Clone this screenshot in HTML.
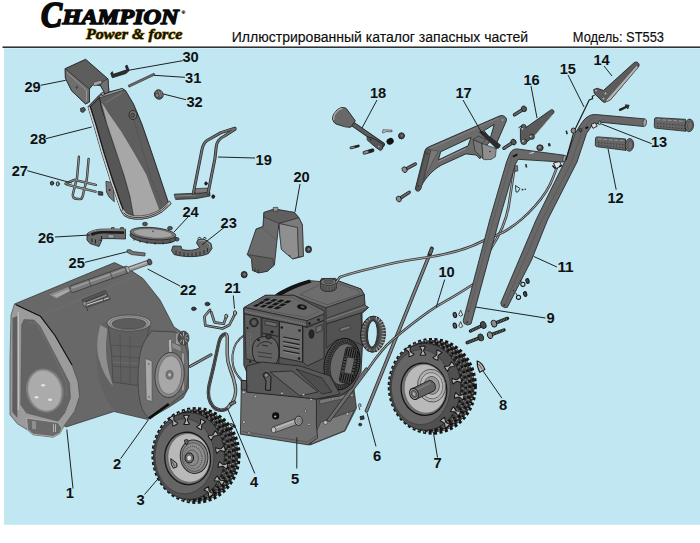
<!DOCTYPE html>
<html lang="ru"><head><meta charset="utf-8"><title>Champion ST553</title>
<style>
html,body{margin:0;padding:0;background:#fff;}
body{width:700px;height:543px;overflow:hidden;position:relative;font-family:"Liberation Sans",sans-serif;}
svg{position:absolute;left:0;top:0;display:block}
.n{font-family:"Liberation Sans",sans-serif;font-weight:bold;font-size:15px;fill:#111;}
.l{stroke:#222;stroke-width:1;fill:none}
</style></head><body>
<svg width="700" height="543" viewBox="0 0 700 543">
<!-- 00_bg.svg -->
<rect x="0" y="0" width="700" height="543" fill="#ffffff"/>
<rect x="4" y="48.3" width="696" height="476.5" fill="#c0e7f2"/>
<rect x="2.5" y="46.5" width="697.5" height="1.35" fill="#111"/>
<g font-family="'Liberation Serif',serif" font-weight="bold" font-style="italic" fill="#0a0a0a" stroke="#0a0a0a" stroke-linejoin="round">
<text x="41" y="27" font-size="35" textLength="21" lengthAdjust="spacingAndGlyphs" stroke-width="1.9">C</text>
<text x="62.5" y="24.3" font-size="20.3" textLength="116" lengthAdjust="spacingAndGlyphs" stroke-width="1.5">HAMPION</text>
<text x="181.5" y="14" font-size="5" font-style="normal" stroke-width="0.2">®</text>
<text x="86" y="39.4" font-size="15.5" textLength="96.5" lengthAdjust="spacingAndGlyphs" fill="none" stroke="#d9b400" stroke-width="1.5" opacity="0.55">Power &amp; force</text>
<text x="86" y="39.4" font-size="15.5" textLength="96.5" lengthAdjust="spacingAndGlyphs" fill="#151000" stroke="#151000" stroke-width="0.45">Power &amp; force</text>
</g>
<g font-family="'Liberation Sans',sans-serif" font-size="14" fill="#0c0c0c" stroke="#0c0c0c" stroke-width="0.15">
<text x="231.8" y="41.8" textLength="296.4" lengthAdjust="spacingAndGlyphs">Иллюстрированный каталог запасных частей</text>
<text x="572.8" y="41.8" textLength="91.2" lengthAdjust="spacingAndGlyphs">Модель: ST553</text>
</g>

<!-- 20_housing.svg -->
<g id="housing" stroke-linejoin="round">
<!-- main body -->
<path d="M14.5 304 L114.5 262.6 L131 270.5 L143 278.5 L160 300 L174 327 L180 331 L187 340 L188.5 352 L188.5 388 L183 398 L170 406.5 L148 419.5 L114 411.5 L66 427 L58 422 L20 400 L16 320 Z" fill="#686868" stroke="#3a3a3a" stroke-width="0.8"/>
<!-- fold line -->
<path d="M41 315.5 L136 276" stroke="#8a8a8a" stroke-width="0.6" stroke-dasharray="1 1" fill="none" opacity="0.7"/>
<!-- left side panel rim -->
<path d="M14.5 304 L40.5 316.3 L54.7 335 L72 365 L78 381.5 L79.6 396.4 L74.6 411.4 L63.8 426.3 L60 433.5 L53 437.2 L33.2 434.8 L27 429.5 L17.4 423.8 L10 414.7 L10 360 L11 315 Z" fill="#9b9b9b" stroke="#4a4a4a" stroke-width="0.7"/>
<path d="M12.5 318 L12.3 412 L17.4 418 L17.4 316 Z" fill="#5e5e5e"/>
<path d="M18.3 312 L18.3 410" stroke="#c4c4c4" stroke-width="1.2" fill="none"/>
<!-- inset -->
<path d="M24 319.5 L34 320 L40 326 L60.4 365 L69.6 383 L70.5 398 L64.7 413 L58 421.3 L26.5 413 L20.7 404.7 L21.5 325 Z" fill="#646464" stroke="#555" stroke-width="0.5"/>
<path d="M28 322 L37 323.5 L57 362 L66 382 L66.5 396" stroke="#8c8c8c" stroke-width="0.6" stroke-dasharray="0.8 0.8" fill="none"/>
<!-- fold edge -->
<path d="M16 304.7 L40.5 316.3 L55 335.5 L72 365" stroke="#111" stroke-width="1.1" fill="none"/>
<!-- bearing plate -->
<ellipse cx="44.8" cy="390.6" rx="18.6" ry="22.3" transform="rotate(-14 44.8 390.6)" fill="#7e7e7e"/>
<ellipse cx="44.8" cy="390.6" rx="16.6" ry="20.6" transform="rotate(-14 44.8 390.6)" fill="#ababab" stroke="#8e8e8e" stroke-width="0.6"/>
<ellipse cx="43.1" cy="385.3" rx="2.1" ry="1.3" fill="#e2e2e2"/>
<ellipse cx="36.5" cy="397.3" rx="2.1" ry="1.3" fill="#e2e2e2"/>
<ellipse cx="50.1" cy="399.8" rx="2.1" ry="1.3" fill="#e2e2e2"/>
<!-- skid shoe -->
<path d="M26.5 418 L58 422.5 L62 428 L60.3 433 L53 436.5 L33.5 434.3 L27.6 429.5 Z" fill="#6a6a6a" stroke="#b0b0b0" stroke-width="0.9"/>
<path d="M33 421 L33 429 M35 421.3 L35 429.3 M53.5 424 L53.5 432 M55.5 424.3 L55.5 432" stroke="#c8c8c8" stroke-width="0.8"/>
<!-- top details: slots -->
<path d="M48.6 294.6 L67.4 286.9 L74.3 288.6 L56.3 298.9 Z" fill="#8e8e8e" stroke="#555" stroke-width="0.4"/>
<path d="M53 295.3 L68 289.3 L71.5 290.2 L57 297.3 Z" fill="#a8a8a8"/>
<path d="M82 299.7 L105.1 290.3 L110.3 299.3 L86.3 307.6 Z" fill="#5a5a5a" stroke="#2a2a2a" stroke-width="0.5"/>
<path d="M84 301.5 L106 292.8 L107.5 296 L86 304.6 Z" fill="#8a8a8a" stroke="#222" stroke-width="0.5"/>
<path d="M86 305.3 L109 297.8" stroke="#d0d0d0" stroke-width="1"/>
<path d="M84.5 302.3 L105 294.2" stroke="#1c1c1c" stroke-width="0.8"/>
<ellipse cx="84.6" cy="303.6" rx="1.8" ry="2.6" fill="#8c8c8c" stroke="#222" stroke-width="0.5"/>
<path d="M87 308 l0.6 3 M103 298 l0.8 3" stroke="#333" stroke-width="0.7"/>
</g>

<!-- 21_drum.svg -->
<g id="drum" stroke-linejoin="round">
<!-- drum body outline shading -->
<path d="M103 322 C97 335 95 352 98 372 C100 388 105 400 114 410 L148 419 L170 406 L186 392 L188.5 357 L182 338 L174 330 L152 331 L150 322 Z" fill="#626262"/>
<!-- lens highlight -->
<path d="M100.5 325 C96.5 338 96 352 100 362 C103 372 108 381 113 386 C109 374 106 362 106 350 C106 340 107 333 107.5 329 Z" fill="#8e8e8e"/>
<!-- neck -->
<path d="M108 325 L111.5 352 L113 382 L141 386 L144 350 L149.5 326 Z" fill="#5f5f5f" stroke="#3c3c3c" stroke-width="0.6"/>
<path d="M111 345 L143 347 M112 356 L142 358 M112.5 366 L141 368 M120 335 L121 384 M130 336 L130 385" stroke="#444" stroke-width="0.5" fill="none"/>
<path d="M113 362 L141 364" stroke="#8a8a8a" stroke-width="0.5" stroke-dasharray="1 1"/>
<!-- chute ring -->
<ellipse cx="129" cy="323" rx="22" ry="8" fill="#9a9a9a" stroke="#3e3e3e" stroke-width="0.7"/>
<ellipse cx="129" cy="323.3" rx="19.5" ry="6.6" fill="none" stroke="#5a5a5a" stroke-width="0.6"/>
<ellipse cx="129" cy="323.8" rx="17" ry="5.4" fill="#5c5c5c" stroke="#3a3a3a" stroke-width="0.6"/>
<!-- front face of drum -->
<path d="M152 331 C145 338 140 348 139 362 C137 380 138 398 142.5 410 L148 418 L170.5 404 L185.5 392 C188.5 380 189 368 188 357 C187 347 183 338 175 332 Z" fill="#6d6d6d" stroke="#3a3a3a" stroke-width="0.7"/>
<!-- left bracket -->
<path d="M145.2 358.5 L152 361 L152 401.5 L146.3 400 Z" fill="#a9a9a9" stroke="#444" stroke-width="0.5"/>
<circle cx="148.8" cy="364" r="0.8" fill="#555"/><circle cx="149" cy="397" r="0.8" fill="#555"/>
<!-- right bracket -->
<path d="M181.5 352 L184.5 354 L184.5 390 L181.5 392 Z" fill="#999" stroke="#444" stroke-width="0.4"/>
<!-- top bracket -->
<path d="M168.5 340 L171.5 339 L172 352 L169 353 Z" fill="#b4b4b4" stroke="#444" stroke-width="0.4"/>
<path d="M171.5 342 L181 346.5 L181.5 352 L172 348 Z" fill="#8c8c8c" stroke="#444" stroke-width="0.4"/>
<!-- face plate -->
<ellipse cx="169.6" cy="375" rx="14.6" ry="22.6" transform="rotate(5 169.6 375)" fill="#868686" stroke="#333" stroke-width="0.8"/>
<ellipse cx="169.8" cy="375" rx="11.8" ry="19.4" transform="rotate(5 169.8 375)" fill="#a8a8a8" stroke="#555" stroke-width="0.6"/>
<ellipse cx="169.6" cy="374.8" rx="3.6" ry="4.4" fill="#777" stroke="#444" stroke-width="0.5"/>
<ellipse cx="169.6" cy="374.8" rx="1.6" ry="2" fill="#c4c4c4" stroke="#555" stroke-width="0.4"/>
<!-- gear knob -->
<path d="M175.5 334 L181 331.5 L181 345 L175.5 344 Z" fill="#9a9a9a" stroke="#444" stroke-width="0.4"/>
<ellipse cx="183.5" cy="338" rx="5.6" ry="7" fill="#4a4a4a" stroke="#2a2a2a" stroke-width="0.6"/>
<g stroke="#d0d0d0" stroke-width="0.7">
<path d="M183.5 338 L183.5 332 M183.5 338 L187.5 334 M183.5 338 L188.5 338 M183.5 338 L187.5 342.5 M183.5 338 L183.5 344.5 M183.5 338 L180 342.5 M183.5 338 L180 334"/>
</g>
<ellipse cx="183.5" cy="338" rx="1.8" ry="2.2" fill="#555"/>
<!-- part 2 black strip -->
<path d="M148 417.5 L168 403 L169.5 405 L150 419.5 Z" fill="#0c0c0c"/>
<!-- shaft 22 -->
<path d="M70 286 L126.5 266 L129 272.5 L73 292.5 C70.5 292.5 69 288.5 70 286 Z" fill="#7a7a7a" stroke="#2e2e2e" stroke-width="0.7"/>
<path d="M72 288 L127 268.6" stroke="#9c9c9c" stroke-width="1.6"/>
<path d="M88.5 279.6 L91 286 M110 272 L112.5 278.3 M124.5 266.8 L127 273" stroke="#3a3a3a" stroke-width="0.7"/>
<path d="M127 267.5 L148.5 260 L150 264.2 L128.6 271.8 Z" fill="#999" stroke="#333" stroke-width="0.7"/>
<path d="M128 269 L148.8 261.6" stroke="#c4c4c4" stroke-width="1.1"/>
<ellipse cx="149.6" cy="262" rx="2.2" ry="3" transform="rotate(-20 149.6 262)" fill="#555" stroke="#222" stroke-width="0.7"/>
<ellipse cx="127.8" cy="269.6" rx="1.6" ry="3.6" transform="rotate(-20 127.8 269.6)" fill="#aaa" stroke="#333" stroke-width="0.5"/>
</g>

<!-- 30_wheels.py -->
<g id="wheel3"><ellipse cx="196" cy="455.5" rx="42.4" ry="46.199999999999996" fill="#3a3a3a" stroke="#141414" stroke-width="4.4" stroke-dasharray="3 2.4"/>
<ellipse cx="196" cy="455.5" rx="40.2" ry="44.0" fill="#444" stroke="#222" stroke-width="1"/>
<path d="M188.9 410.9 A41.0 45.3 0 1 1 185.4 499.3" fill="none" stroke="#a0a0a0" stroke-width="1.4" stroke-dasharray="1.2 4.2" stroke-dashoffset="0"/>
<path d="M189.5 412.9 A37.5 43.3 0 1 1 186.3 497.3" fill="none" stroke="#111" stroke-width="3.0" stroke-dasharray="2.4 3" stroke-dashoffset="1"/>
<path d="M189.5 412.9 A37.5 43.3 0 1 1 186.3 497.3" fill="none" stroke="#9a9a9a" stroke-width="1.2" stroke-dasharray="1 4.4" stroke-dashoffset="3.2"/>
<path d="M190.2 415.3 A33.5 40.8 0 1 1 187.3 494.9" fill="none" stroke="#141414" stroke-width="3.0" stroke-dasharray="2.6 2.8" stroke-dashoffset="0"/>
<path d="M190.2 415.3 A33.5 40.8 0 1 1 187.3 494.9" fill="none" stroke="#8c8c8c" stroke-width="1.2" stroke-dasharray="1 4.4" stroke-dashoffset="2.8"/>
<path d="M190.8 417.3 A30.0 38.8 0 1 1 188.2 493.0" fill="none" stroke="#1a1a1a" stroke-width="2.4" stroke-dasharray="2.2 3.2" stroke-dashoffset="2"/>
<path d="M190.8 417.3 A30.0 38.8 0 1 1 188.2 493.0" fill="none" stroke="#8a8a8a" stroke-width="1.1" stroke-dasharray="0.9 4.5" stroke-dashoffset="4"/>
<path d="M189.8 414.0 A35.5 42.1 0 1 1 186.8 496.2" fill="none" stroke="#b0b0b0" stroke-width="0.9" stroke-dasharray="0.9 6.1" stroke-dashoffset="1.5"/>
<path d="M190.5 416.3 A31.7 39.8 0 1 1 187.8 493.9" fill="none" stroke="#a8a8a8" stroke-width="0.9" stroke-dasharray="0.9 6.6" stroke-dashoffset="3.5"/>
<path d="M188.6 501.0 A42.4 46.2 0 0 1 190.1 409.7" fill="none" stroke="#9a9a9a" stroke-width="1.3" stroke-dasharray="1.1 4.3"/>
<ellipse cx="189" cy="456.0" rx="35.5" ry="43.5" fill="#505050" stroke="#222" stroke-width="0.8"/>
<ellipse cx="184.5" cy="456.3" rx="29.5" ry="37.5" fill="#656565" stroke="#333" stroke-width="0.6"/>
<g transform="translate(173.3 420.9) rotate(-117)"><path d="M-4.2 -2.8 L-0.6 -0.9 L0.6 -0.9 L4.2 -2.8 L4.6 -1 L4.6 1 L4.2 2.8 L0.6 0.9 L-0.6 0.9 L-4.2 2.8 L-4.6 1 L-4.6 -1 Z" fill="#b4b4b4" stroke="#141414" stroke-width="1"/></g>
<g transform="translate(186.5 419.9) rotate(-93)"><path d="M-4.2 -2.8 L-0.6 -0.9 L0.6 -0.9 L4.2 -2.8 L4.6 -1 L4.6 1 L4.2 2.8 L0.6 0.9 L-0.6 0.9 L-4.2 2.8 L-4.6 1 L-4.6 -1 Z" fill="#b4b4b4" stroke="#141414" stroke-width="1"/></g>
<g transform="translate(201.1 424.4) rotate(-63)"><path d="M-4.2 -2.8 L-0.6 -0.9 L0.6 -0.9 L4.2 -2.8 L4.6 -1 L4.6 1 L4.2 2.8 L0.6 0.9 L-0.6 0.9 L-4.2 2.8 L-4.6 1 L-4.6 -1 Z" fill="#b4b4b4" stroke="#141414" stroke-width="1"/></g>
<g transform="translate(213.2 435.6) rotate(-34)"><path d="M-4.2 -2.8 L-0.6 -0.9 L0.6 -0.9 L4.2 -2.8 L4.6 -1 L4.6 1 L4.2 2.8 L0.6 0.9 L-0.6 0.9 L-4.2 2.8 L-4.6 1 L-4.6 -1 Z" fill="#b4b4b4" stroke="#141414" stroke-width="1"/></g>
<g transform="translate(220.4 449.7) rotate(-10)"><path d="M-4.2 -2.8 L-0.6 -0.9 L0.6 -0.9 L4.2 -2.8 L4.6 -1 L4.6 1 L4.2 2.8 L0.6 0.9 L-0.6 0.9 L-4.2 2.8 L-4.6 1 L-4.6 -1 Z" fill="#b4b4b4" stroke="#141414" stroke-width="1"/></g>
<g transform="translate(222.9 465.4) rotate(12)"><path d="M-4.2 -2.8 L-0.6 -0.9 L0.6 -0.9 L4.2 -2.8 L4.6 -1 L4.6 1 L4.2 2.8 L0.6 0.9 L-0.6 0.9 L-4.2 2.8 L-4.6 1 L-4.6 -1 Z" fill="#b4b4b4" stroke="#141414" stroke-width="1"/></g>
<g transform="translate(219.4 480.6) rotate(32)"><path d="M-4.2 -2.8 L-0.6 -0.9 L0.6 -0.9 L4.2 -2.8 L4.6 -1 L4.6 1 L4.2 2.8 L0.6 0.9 L-0.6 0.9 L-4.2 2.8 L-4.6 1 L-4.6 -1 Z" fill="#b4b4b4" stroke="#141414" stroke-width="1"/></g>
<g transform="translate(208.7 491.8) rotate(54)"><path d="M-4.2 -2.8 L-0.6 -0.9 L0.6 -0.9 L4.2 -2.8 L4.6 -1 L4.6 1 L4.2 2.8 L0.6 0.9 L-0.6 0.9 L-4.2 2.8 L-4.6 1 L-4.6 -1 Z" fill="#b4b4b4" stroke="#141414" stroke-width="1"/></g>
<ellipse cx="187.6" cy="458.4" rx="22.8" ry="26.2" transform="rotate(-8 187.6 458.4)" fill="#6f6f6f" stroke="#161616" stroke-width="1.3"/>
<ellipse cx="188.79999999999998" cy="457.9" rx="20.8" ry="24.4" transform="rotate(-8 188.79999999999998 457.9)" fill="#b9b9b9" stroke="#555" stroke-width="0.5"/>
<ellipse cx="194.1" cy="456.7" rx="13.8" ry="16.8" transform="rotate(-8 194.1 456.7)" fill="#878787" stroke="#2a2a2a" stroke-width="1"/>
<ellipse cx="193.7" cy="457.0" rx="11.6" ry="14.4" transform="rotate(-8 194.1 456.7)" fill="#8e8e8e" stroke="#3e3e3e" stroke-width="0.7"/>
<ellipse cx="192.9" cy="457.3" rx="9" ry="11.2" transform="rotate(-8 194.1 456.7)" fill="none" stroke="#5a5a5a" stroke-width="1.4" stroke-dasharray="1 1"/>
<ellipse cx="191.9" cy="457.59999999999997" rx="6.4" ry="8" transform="rotate(-8 194.1 456.7)" fill="#8a8a8a" stroke="#4a4a4a" stroke-width="0.7"/>
<ellipse cx="189.29999999999998" cy="457.9" rx="4.3" ry="5" fill="#6a6a6a" stroke="#1c1c1c" stroke-width="1"/>
<ellipse cx="189.2" cy="458.0" rx="2.4" ry="2.8" fill="#d4d4d4" stroke="#444" stroke-width="0.5"/>
<path d="M184.5 440.09999999999997 l3 -0.6 l0.6 2.6 l-1.6 3 l-1.6 -2.4 z" fill="#6a6a6a" stroke="#161616" stroke-width="0.8"/>
<path d="M170.8 458.7 L176.60000000000002 463.09999999999997 L177.0 466.7 L173.4 468.3 L171.4 464.7 Z" fill="#9c9c9c" stroke="#161616" stroke-width="1"/>
<path d="M172.4 461.7 L174.60000000000002 466.3" stroke="#333" stroke-width="0.8"/></g>
<g id="wheel7"><ellipse cx="432.3" cy="386.3" rx="42.4" ry="46.199999999999996" fill="#3a3a3a" stroke="#141414" stroke-width="4.4" stroke-dasharray="3 2.4"/>
<ellipse cx="432.3" cy="386.3" rx="40.2" ry="44.0" fill="#444" stroke="#222" stroke-width="1"/>
<path d="M425.2 341.7 A41.0 45.3 0 1 1 421.7 430.1" fill="none" stroke="#a0a0a0" stroke-width="1.4" stroke-dasharray="1.2 4.2" stroke-dashoffset="0"/>
<path d="M425.8 343.7 A37.5 43.3 0 1 1 422.6 428.1" fill="none" stroke="#111" stroke-width="3.0" stroke-dasharray="2.4 3" stroke-dashoffset="1"/>
<path d="M425.8 343.7 A37.5 43.3 0 1 1 422.6 428.1" fill="none" stroke="#9a9a9a" stroke-width="1.2" stroke-dasharray="1 4.4" stroke-dashoffset="3.2"/>
<path d="M426.5 346.1 A33.5 40.8 0 1 1 423.6 425.7" fill="none" stroke="#141414" stroke-width="3.0" stroke-dasharray="2.6 2.8" stroke-dashoffset="0"/>
<path d="M426.5 346.1 A33.5 40.8 0 1 1 423.6 425.7" fill="none" stroke="#8c8c8c" stroke-width="1.2" stroke-dasharray="1 4.4" stroke-dashoffset="2.8"/>
<path d="M427.1 348.1 A30.0 38.8 0 1 1 424.5 423.8" fill="none" stroke="#1a1a1a" stroke-width="2.4" stroke-dasharray="2.2 3.2" stroke-dashoffset="2"/>
<path d="M427.1 348.1 A30.0 38.8 0 1 1 424.5 423.8" fill="none" stroke="#8a8a8a" stroke-width="1.1" stroke-dasharray="0.9 4.5" stroke-dashoffset="4"/>
<path d="M426.1 344.8 A35.5 42.1 0 1 1 423.1 427.0" fill="none" stroke="#b0b0b0" stroke-width="0.9" stroke-dasharray="0.9 6.1" stroke-dashoffset="1.5"/>
<path d="M426.8 347.1 A31.7 39.8 0 1 1 424.1 424.7" fill="none" stroke="#a8a8a8" stroke-width="0.9" stroke-dasharray="0.9 6.6" stroke-dashoffset="3.5"/>
<path d="M424.9 431.8 A42.4 46.2 0 0 1 426.4 340.5" fill="none" stroke="#9a9a9a" stroke-width="1.3" stroke-dasharray="1.1 4.3"/>
<ellipse cx="425.3" cy="386.8" rx="35.5" ry="43.5" fill="#505050" stroke="#222" stroke-width="0.8"/>
<ellipse cx="420.8" cy="387.1" rx="29.5" ry="37.5" fill="#656565" stroke="#333" stroke-width="0.6"/>
<g transform="translate(409.6 351.7) rotate(-117)"><path d="M-4.2 -2.8 L-0.6 -0.9 L0.6 -0.9 L4.2 -2.8 L4.6 -1 L4.6 1 L4.2 2.8 L0.6 0.9 L-0.6 0.9 L-4.2 2.8 L-4.6 1 L-4.6 -1 Z" fill="#b4b4b4" stroke="#141414" stroke-width="1"/></g>
<g transform="translate(422.8 350.7) rotate(-93)"><path d="M-4.2 -2.8 L-0.6 -0.9 L0.6 -0.9 L4.2 -2.8 L4.6 -1 L4.6 1 L4.2 2.8 L0.6 0.9 L-0.6 0.9 L-4.2 2.8 L-4.6 1 L-4.6 -1 Z" fill="#b4b4b4" stroke="#141414" stroke-width="1"/></g>
<g transform="translate(437.4 355.2) rotate(-63)"><path d="M-4.2 -2.8 L-0.6 -0.9 L0.6 -0.9 L4.2 -2.8 L4.6 -1 L4.6 1 L4.2 2.8 L0.6 0.9 L-0.6 0.9 L-4.2 2.8 L-4.6 1 L-4.6 -1 Z" fill="#b4b4b4" stroke="#141414" stroke-width="1"/></g>
<g transform="translate(449.5 366.4) rotate(-34)"><path d="M-4.2 -2.8 L-0.6 -0.9 L0.6 -0.9 L4.2 -2.8 L4.6 -1 L4.6 1 L4.2 2.8 L0.6 0.9 L-0.6 0.9 L-4.2 2.8 L-4.6 1 L-4.6 -1 Z" fill="#b4b4b4" stroke="#141414" stroke-width="1"/></g>
<g transform="translate(456.7 380.5) rotate(-10)"><path d="M-4.2 -2.8 L-0.6 -0.9 L0.6 -0.9 L4.2 -2.8 L4.6 -1 L4.6 1 L4.2 2.8 L0.6 0.9 L-0.6 0.9 L-4.2 2.8 L-4.6 1 L-4.6 -1 Z" fill="#b4b4b4" stroke="#141414" stroke-width="1"/></g>
<g transform="translate(459.2 396.2) rotate(12)"><path d="M-4.2 -2.8 L-0.6 -0.9 L0.6 -0.9 L4.2 -2.8 L4.6 -1 L4.6 1 L4.2 2.8 L0.6 0.9 L-0.6 0.9 L-4.2 2.8 L-4.6 1 L-4.6 -1 Z" fill="#b4b4b4" stroke="#141414" stroke-width="1"/></g>
<g transform="translate(455.7 411.4) rotate(32)"><path d="M-4.2 -2.8 L-0.6 -0.9 L0.6 -0.9 L4.2 -2.8 L4.6 -1 L4.6 1 L4.2 2.8 L0.6 0.9 L-0.6 0.9 L-4.2 2.8 L-4.6 1 L-4.6 -1 Z" fill="#b4b4b4" stroke="#141414" stroke-width="1"/></g>
<g transform="translate(445.0 422.6) rotate(54)"><path d="M-4.2 -2.8 L-0.6 -0.9 L0.6 -0.9 L4.2 -2.8 L4.6 -1 L4.6 1 L4.2 2.8 L0.6 0.9 L-0.6 0.9 L-4.2 2.8 L-4.6 1 L-4.6 -1 Z" fill="#b4b4b4" stroke="#141414" stroke-width="1"/></g>
<ellipse cx="423.90000000000003" cy="389.2" rx="22.8" ry="26.2" transform="rotate(-8 423.90000000000003 389.2)" fill="#6f6f6f" stroke="#161616" stroke-width="1.3"/>
<ellipse cx="425.1" cy="388.7" rx="20.8" ry="24.4" transform="rotate(-8 425.1 388.7)" fill="#b9b9b9" stroke="#555" stroke-width="0.5"/>
<ellipse cx="431.6" cy="385.7" rx="14" ry="16.4" transform="rotate(-8 431.6 385.7)" fill="#b0b0b0" stroke="#444" stroke-width="0.8"/>
<ellipse cx="431.6" cy="385.7" rx="11.2" ry="13.2" transform="rotate(-8 431.6 385.7)" fill="#bdbdbd" stroke="#555" stroke-width="0.7"/>
<ellipse cx="431.90000000000003" cy="385.4" rx="7.6" ry="9" transform="rotate(-8 431.6 385.7)" fill="#9a9a9a" stroke="#444" stroke-width="0.7"/>
<path d="M429.40000000000003 380.3 L412.0 388.7 L416.2 399.29999999999995 L434.0 390.9 C437.1 388.2 435.1 380.7 429.40000000000003 380.3 Z" fill="#626262" stroke="#1e1e1e" stroke-width="0.9"/>
<path d="M430.40000000000003 382.9 L413.2 391.29999999999995" stroke="#787878" stroke-width="2"/>
<ellipse cx="414.0" cy="393.9" rx="4.2" ry="5.8" transform="rotate(-22 414.0 393.9)" fill="#8e8e8e" stroke="#1e1e1e" stroke-width="0.9"/>
<ellipse cx="414.0" cy="393.9" rx="2.6" ry="3.8" transform="rotate(-22 414.0 393.9)" fill="#6a6a6a" stroke="#3a3a3a" stroke-width="0.6"/>
<ellipse cx="414.0" cy="393.9" rx="1.2" ry="1.8" transform="rotate(-22 414.0 393.9)" fill="#b0b0b0"/></g>
<!-- 35_belt.svg -->
<g id="p21_belt" fill="none" stroke-linecap="round" stroke-linejoin="round">
<!-- thin hose from engine to bracket -->
<path d="M244.5 335 C238 339 233.5 346 232.5 355 C231.8 364 234 371 238 376 L243.5 382.5" stroke="#2a2a2a" stroke-width="2"/>
<path d="M244.5 335 C238 339 233.5 346 232.5 355 C231.8 364 234 371 238 376 L243.5 382.5" stroke="#9a9a9a" stroke-width="0.9"/>
<!-- belt -->
<path d="M225 334 C221 335 219.5 339 218.5 344 L214 365 L209 386 C207.5 394 208.5 401 213 406.5 C217 411 224 411.5 228 407.5 L232 403 C235.5 397 236.5 391 235 385 C234 379 232.5 375 230.5 370 C228.5 365 227.2 360 227.2 354 L227.3 341 C227.5 336.5 227 334 225 334 Z" stroke="#2c2c2c" stroke-width="3.4"/>
<path d="M225 334 C221 335 219.5 339 218.5 344 L214 365 L209 386 C207.5 394 208.5 401 213 406.5 C217 411 224 411.5 228 407.5 L232 403 C235.5 397 236.5 391 235 385 C234 379 232.5 375 230.5 370 C228.5 365 227.2 360 227.2 354 L227.3 341 C227.5 336.5 227 334 225 334 Z" stroke="#9a9a9a" stroke-width="1.9"/>
<path d="M225 334 C221 335 219.5 339 218.5 344 L214 365 L209 386 C207.5 394 208.5 401 213 406.5 C217 411 224 411.5 228 407.5" stroke="#3a3a3a" stroke-width="1.9" stroke-dasharray="0.6 1.4"/>
<!-- clip -->
<path d="M229.5 403 L235 400.5 L236 403 L231 405.5 Z" fill="#777" stroke="#1a1a1a" stroke-width="0.8"/>
<!-- part 21 wire -->
<g stroke="#2a2a2a" stroke-width="2.6">
<path d="M210 309.8 L204.4 316.5 L205.3 325.5 L222.5 328.5 L229.4 325 L235 313.8"/>
<path d="M211.2 312 L214.5 322.4 L223.7 323.7 L226 317.3"/>
</g>
<g stroke="#8e8e8e" stroke-width="1.2">
<path d="M210 309.8 L204.4 316.5 L205.3 325.5 L222.5 328.5 L229.4 325 L235 313.8"/>
<path d="M211.2 312 L214.5 322.4 L223.7 323.7 L226 317.3"/>
</g>
<ellipse cx="235" cy="313" rx="1.6" ry="2.4" fill="#aaa" stroke="#222" stroke-width="0.8"/>
<ellipse cx="226.2" cy="316.3" rx="1.5" ry="2.2" fill="#aaa" stroke="#222" stroke-width="0.8"/>
<ellipse cx="193.8" cy="308.8" rx="2.3" ry="1.8" fill="#3a3a3a" stroke="#111" stroke-width="0.7"/>
<ellipse cx="207.4" cy="304" rx="2.4" ry="1.8" fill="#3a3a3a" stroke="#111" stroke-width="0.7"/>
<path d="M231.2 424.6 l3 1.6" stroke="#1e1e1e" stroke-width="3" stroke-linecap="round"/><path d="M231.2 424.6 l1.2 0.7" stroke="#8a8a8a" stroke-width="1.5" stroke-linecap="round"/>
<!-- stud -->
<path d="M190.3 366.3 L211 354.8" stroke="#1e1e1e" stroke-width="3"/>
<path d="M190.3 366.3 L198 362" stroke="#9a9a9a" stroke-width="1.4"/>
<path d="M198.5 361.7 L211 354.8" stroke="#7a7a7a" stroke-width="1.8" stroke-dasharray="0.7 0.7"/>
</g>

<!-- 40_engine.svg -->
<g id="engine" stroke-linejoin="round">
<!-- transmission box right faces -->
<path d="M316.4 394 L354 389 L356.5 408 L345 431 L310 445 L307.8 444.6 L316.4 424 Z" fill="#585858" stroke="#222" stroke-width="0.7"/>
<path d="M320.7 422 L354 410.4 L344.5 430.7 L310.5 444.4 Z" fill="#7a7a7a" stroke="#2a2a2a" stroke-width="0.6"/>
<path d="M319.5 400 L353.5 392.5 L353.8 396 L320 404 Z" fill="#777" stroke="#222" stroke-width="0.4"/>
<!-- brace -->
<path d="M326.5 420.5 L366 367.5 L369 369.5 L330 421.5 Z" fill="#6c6c6c" stroke="#1e1e1e" stroke-width="0.7"/>
<!-- front face of box -->
<path d="M241.4 380.5 L246.6 380.5 L246.8 390 L316.4 394.5 L316.4 424.5 L317.5 438 L307.9 444.8 L240.4 434.2 Z" fill="#6e6e6e" stroke="#222" stroke-width="0.8"/>
<path d="M242 431.5 L307.5 442 L316 436" fill="none" stroke="#444" stroke-width="0.6"/>
<!-- engine silhouette -->
<path d="M243.6 308 L265.5 295.3 L293.8 295.3 L320 281.5 L321.5 278.6 L335.5 278.4 L338.5 281 L361 289 L364.2 294.5 L365 305.5 L368.5 307.5 L362 313.5 L362.5 345 L361 372 L352 388 L340 396 L316.4 399 L300 397 L246.8 392 L246.6 372 L243.8 365 Z" fill="#525252" stroke="#1c1c1c" stroke-width="0.8"/>
<!-- tank top -->
<path d="M275 295.3 L284 290.3 L296 285 L310 280.6 L320 281.5 L338.5 281 L361 289 L364.2 294.5 L326 307.8 L293.8 295.3 Z" fill="#6d6d6d" stroke="#222" stroke-width="0.7"/>
<path d="M300 294.5 L321 284 L338 283.5 L358 290.3 L360.5 294 L327 304.8 Z" fill="none" stroke="#4a4a4a" stroke-width="0.6"/>
<path d="M275.5 294.3 C284 288.5 296 283.4 309.5 279.6 L311.5 282.4 C300 285.8 290 290 281 295.6 Z" fill="#141414"/>
<!-- tank front-right face -->
<path d="M326 307.8 L364.2 294.5 L365 305.5 L368.5 307.5 L361 313 L326.3 324 Z" fill="#5a5a5a" stroke="#222" stroke-width="0.6"/>
<path d="M326.2 318.5 L364.6 304.6" stroke="#333" stroke-width="0.8" fill="none"/>
<path d="M326.2 320.3 L366 306.5" stroke="#8a8a8a" stroke-width="0.7" fill="none"/>
<!-- cap -->
<path d="M320.6 282 L320.6 288.5 C323 292.5 333.5 292.5 336.4 288.5 L336.4 282 Z" fill="#5e5e5e" stroke="#1e1e1e" stroke-width="0.7"/>
<ellipse cx="328.5" cy="282" rx="7.9" ry="3.4" fill="#7a7a7a" stroke="#1e1e1e" stroke-width="0.7"/>
<ellipse cx="328.5" cy="281.8" rx="5" ry="2" fill="#5c5c5c" stroke="#333" stroke-width="0.5"/>
<path d="M323 286 L323 291 M326 286.6 L326 291.8 M329 286.8 L329 292 M332 286.6 L332 291.6 M334.6 286 L334.6 290.6" stroke="#2c2c2c" stroke-width="0.5"/>
<!-- air cleaner top -->
<path d="M244.1 307.4 L265.4 295.3 L293.8 295.3 L324.2 311 L324 314 L307 320.8 Z" fill="#6a6a6a" stroke="#1e1e1e" stroke-width="0.7"/>
<path d="M248 307.3 L266 297.3 L292 297.3 L319 311.5 L306.6 317.5 Z" fill="none" stroke="#4c4c4c" stroke-width="0.5"/>
<!-- vent grid -->
<g fill="#151515">
<path d="M262.5 300.5 l4 -2.2 l4.2 0.4 l-4 2.3 z M269.5 301.2 l4 -2.3 l4.2 0.4 l-4 2.4 z M276.5 301.9 l4 -2.3 l4.2 0.5 l-4 2.4 z M283.5 302.7 l4 -2.4 l4.2 0.6 l-4 2.4 z"/>
<path d="M257.5 303.4 l4 -2.2 l4.2 0.4 l-4 2.3 z M264.5 304.1 l4 -2.3 l4.2 0.4 l-4 2.4 z M271.5 304.9 l4 -2.3 l4.2 0.5 l-4 2.4 z M278.5 305.7 l4 -2.4 l4.2 0.6 l-4 2.4 z"/>
<path d="M252.5 306.3 l4 -2.2 l4.2 0.4 l-4 2.3 z M259.5 307 l4 -2.3 l4.2 0.4 l-4 2.4 z M266.5 307.8 l4 -2.3 l4.2 0.5 l-4 2.4 z M273.5 308.7 l4 -2.4 l4.2 0.6 l-4 2.4 z"/>
</g>
<ellipse cx="302" cy="307" rx="5" ry="2.6" transform="rotate(12 302 307)" fill="#141414"/>
<ellipse cx="302.5" cy="306.8" rx="2.2" ry="1.1" transform="rotate(12 302 307)" fill="#555"/>
<!-- air cleaner front lip -->
<path d="M244.1 307.4 L307 320.8 L307 327 L244 313.5 Z" fill="#606060" stroke="#1e1e1e" stroke-width="0.6"/>
<path d="M245 311.3 L306.5 324.6" stroke="#9a9a9a" stroke-width="0.6" stroke-dasharray="1.2 1"/>
<path d="M307 320.8 L324 314 L324 320 L307 327 Z" fill="#585858" stroke="#1e1e1e" stroke-width="0.6"/>
<!-- engine front face blocks -->
<path d="M244.5 314 L261 317.5 L261 362 L246 359 Z" fill="#5e5e5e" stroke="#1a1a1a" stroke-width="0.6"/>
<circle cx="254" cy="322.5" r="4.2" fill="#3a3a3a" stroke="#111" stroke-width="0.8"/>
<circle cx="254" cy="322.5" r="2.4" fill="#5a5a5a"/>
<path d="M248 333 l0 22 M250.5 333.5 l0 22" stroke="#8a8a8a" stroke-width="0.6" stroke-dasharray="1 1.4"/>
<path d="M262 318 L279 321.5 L279 365 L262 361 Z" fill="#545454" stroke="#141414" stroke-width="0.6"/>
<path d="M265 320.8 L277 323.2 L277 327 L265 324.6 Z" fill="#6a6a6a" stroke="#111" stroke-width="0.5"/>
<circle cx="272" cy="332" r="2.2" fill="#222" stroke="#777" stroke-width="0.5"/>
<!-- round carb/muffler lower-left -->
<path d="M253 345 C255 336 268 334 275 340 C280 346 280 358 276 364 L256 362 C252 357 252 350 253 345 Z" fill="#626262" stroke="#141414" stroke-width="0.8"/>
<path d="M257 347 C260 341 268 340 272 344" fill="none" stroke="#1a1a1a" stroke-width="0.8"/>
<path d="M258 352 l14 2 M258 356 l14 2" stroke="#2a2a2a" stroke-width="0.7"/>
<path d="M262 333 l16 3.4 M262 345 l6 1.2" stroke="#1a1a1a" stroke-width="0.8"/>
<circle cx="268.5" cy="336.5" r="2.6" fill="#3a3a3a" stroke="#111" stroke-width="0.7"/>
<circle cx="258.5" cy="340" r="1.3" fill="#1a1a1a"/><circle cx="247.5" cy="328" r="1.1" fill="#1a1a1a"/><circle cx="250" cy="361.5" r="1.1" fill="#1a1a1a"/>
<!-- slotted panel -->
<path d="M279.5 321.5 L302.5 326 L302.5 362 L279.5 357.5 Z" fill="#6b6b6b" stroke="#141414" stroke-width="0.7"/>
<g stroke="#1c1c1c" stroke-width="1.2">
<path d="M283 337 L299.5 340.2 M283 341.5 L299.5 344.7 M283 346 L299.5 349.2 M283 350.5 L299.5 353.7"/>
</g>
<g stroke="#a0a0a0" stroke-width="0.5">
<path d="M283 338.3 L299.5 341.5 M283 342.8 L299.5 346 M283 347.3 L299.5 350.5 M283 351.8 L299.5 355"/>
</g>
<circle cx="281.8" cy="327.5" r="1.3" fill="#1a1a1a"/><circle cx="299.5" cy="330.5" r="1.3" fill="#1a1a1a"/><circle cx="299" cy="358.5" r="1.3" fill="#1a1a1a"/>
<!-- right column -->
<path d="M303 326.5 L307 327.5 L324 320.5 L324 358 L307 366 L303 362 Z" fill="#5c5c5c" stroke="#141414" stroke-width="0.6"/>
<ellipse cx="311.5" cy="334" rx="3.6" ry="5.2" fill="#262626" stroke="#7a7a7a" stroke-width="0.6"/>
<path d="M316 327 l6 -2.4 l0 6 l-6 2.4 z" fill="#6a6a6a" stroke="#111" stroke-width="0.5"/>
<circle cx="309.5" cy="323.5" r="1.2" fill="#151515"/><circle cx="318.5" cy="319.8" r="1.2" fill="#151515"/>
<!-- body right of tank bottom -->
<path d="M326.3 324 L361 313 L362 345 L350 340 L336 340 L326.3 348 Z" fill="#525252" stroke="#151515" stroke-width="0.5"/>
<path d="M340 328.5 L350 325.5 L350 328.5 L340 331.5 Z" fill="#777" stroke="#111" stroke-width="0.4"/>
<!-- recoil starter housing -->
<g transform="rotate(12 342 364)">
<ellipse cx="342" cy="364" rx="17.6" ry="26" fill="#474747" stroke="#101010" stroke-width="0.9"/>
<ellipse cx="343" cy="364" rx="15.2" ry="23.4" fill="none" stroke="#1a1a1a" stroke-width="3.2" stroke-dasharray="0.8 1.3"/>
<ellipse cx="343.5" cy="364" rx="13" ry="21" fill="#686868" stroke="#161616" stroke-width="0.7"/>
<rect x="342.5" y="346" width="13.5" height="36" rx="3" fill="#4c4c4c" stroke="#141414" stroke-width="0.7"/>
<path d="M344 347.5 l0 8 M346.2 347 l0 8.5 M348.4 346.8 l0 8.7 M350.6 346.8 l0 8.7 M352.8 347 l0 8.5 M354.8 347.8 l0 7.7" stroke="#0e0e0e" stroke-width="1"/>
<path d="M344 372.5 l0 8 M346.2 372.5 l0 8.7 M348.4 372.5 l0 9 M350.6 372.5 l0 9 M352.8 372.5 l0 8.6 M354.8 372.5 l0 7.6" stroke="#0e0e0e" stroke-width="1"/>
<path d="M343 357 l2.4 0 M343 360 l2.4 0 M343 363 l2.4 0 M343 366 l2.4 0 M343 369 l2.4 0 M353.6 357 l2.4 0 M353.6 360 l2.4 0 M353.6 363 l2.4 0 M353.6 366 l2.4 0 M353.6 369 l2.4 0" stroke="#0e0e0e" stroke-width="0.9"/>
<rect x="345.6" y="355.8" width="7.6" height="16.4" fill="#6c6c6c" stroke="#1c1c1c" stroke-width="0.6"/>
</g>
<!-- lower engine base -->
<path d="M246.6 366 L262 362 L300 366 L330 376 L340 394 L316.4 399 L246.8 392 Z" fill="#585858" stroke="#141414" stroke-width="0.6"/>
<path d="M270 372 L292 371 L318 392 L300 396 Z" fill="#646464" stroke="#111" stroke-width="0.6"/>
<path d="M296 369 L322 378 L332 392 L322 394 Z" fill="#4e4e4e" stroke="#111" stroke-width="0.5"/>
<!-- lever -->
<path d="M263 375.5 C263 372.5 266 371.8 268.5 373.5 L271 377 L270.5 390.5 L265.5 390 L266 381 Z" fill="#5f5f5f" stroke="#0e0e0e" stroke-width="0.9"/>
<circle cx="266.3" cy="375.3" r="2.1" fill="#8a8a8a" stroke="#111" stroke-width="0.6"/>
<!-- box details -->
<circle cx="275.7" cy="415.9" r="4.1" fill="#0e0e0e" stroke="#808080" stroke-width="0.8"/>
<circle cx="275.2" cy="416.5" r="1.1" fill="#bbb"/>
<g fill="#bdbdbd" stroke="#2a2a2a" stroke-width="0.5">
<circle cx="243.8" cy="392.3" r="1.5"/><circle cx="255.5" cy="396.5" r="1.3"/><circle cx="243.8" cy="422" r="1.5"/><circle cx="249" cy="433" r="1.3"/><circle cx="282" cy="393.3" r="1.3"/><circle cx="303.5" cy="394.5" r="1.3"/><circle cx="311" cy="399.7" r="1.3"/><circle cx="309" cy="424.3" r="1.3"/><circle cx="305.5" cy="411" r="1.2"/>
<circle cx="325.5" cy="422.5" r="2"/><circle cx="347.5" cy="414" r="1.5"/><circle cx="333" cy="399" r="1.2"/><circle cx="352" cy="395.5" r="1.2"/>
</g>
<!-- shaft -->
<path d="M272.8 427 L297.3 418 L299.3 423.6 L274.8 432.6 Z" fill="#9c9c9c" stroke="#2c2c2c" stroke-width="0.7"/>
<path d="M273.8 428.6 L297.8 419.8" stroke="#bdbdbd" stroke-width="1.4"/>
<ellipse cx="298.6" cy="420.8" rx="3.8" ry="4.6" fill="#a4a4a4" stroke="#1e1e1e" stroke-width="0.9"/>
<ellipse cx="298.9" cy="420.8" rx="2.1" ry="2.8" fill="#8a8a8a" stroke="#555" stroke-width="0.4"/>
<ellipse cx="273.6" cy="429.9" rx="2.3" ry="2.9" fill="#c4c4c4" stroke="#2a2a2a" stroke-width="0.7"/>
<!-- left bracket of box -->
<path d="M241.4 380.5 L246.6 380.5 L246.7 390 L241.4 389.8 Z" fill="#5a5a5a" stroke="#161616" stroke-width="0.7"/>
</g>

<!-- 41_recoil.svg -->
<g id="recoilring" transform="rotate(3 373 334.2)">
<path fill-rule="evenodd" d="M360.5 334.2 A12.5 18.1 0 1 1 385.5 334.2 A12.5 18.1 0 1 1 360.5 334.2 Z M367.5 333.9 A4.9 13.2 0 1 0 377.3 333.9 A4.9 13.2 0 1 0 367.5 333.9 Z" fill="#505050" stroke="#1a1a1a" stroke-width="0.9"/>
<path d="M375 318.5 A9 15.6 0 0 1 375 349.9" fill="none" stroke="#b0b0b0" stroke-width="4.4" stroke-dasharray="0.9 2.1"/>
<path d="M371 349.9 A8 15.6 0 0 1 371 318.5" fill="none" stroke="#9a9a9a" stroke-width="3" stroke-dasharray="0.8 2.4"/>
<ellipse cx="372.6" cy="334" rx="6.3" ry="14.4" fill="none" stroke="#2a2a2a" stroke-width="0.7"/>
</g>

<!-- 50_chute.svg -->
<g id="chute" stroke-linejoin="round">
<!-- lower tab bracket -->
<path d="M105.9 181.4 L113.1 182.6 L114.3 201.8 L109 197 L106.5 192 Z" fill="#777" stroke="#222" stroke-width="0.7"/>
<circle cx="109.6" cy="190" r="1" fill="#222"/>
<!-- chute body -->
<path d="M88 106.8 L98.6 95.8 L101 94 L122.5 88.6 L125.5 90.5 L133.5 104 L141.9 124 L152.6 155.1 L162.2 183.8 L168.4 202.5 L171 203.5 L168.7 206 L162.2 211.8 L156 215.2 L149 217.7 L142 219 L134.7 219 L129 218 L124 215.5 L121 210.8 L119.1 205.4 L110.7 181.4 L102.3 155.1 L94 126.3 Z" fill="#5e5e5e" stroke="#1e1e1e" stroke-width="0.9"/>
<!-- left dark band -->
<path d="M89.8 107.5 L99.5 97.5 L101.3 107.2 L110.7 135.9 L121.5 167 L129.9 195.8 L133.8 216.8 L129 216 L124.6 213.6 L122 209.5 L120.2 204.8 L111.8 181 L103.4 154.8 L95.2 126 Z" fill="#565656" stroke="#151515" stroke-width="0.8"/>
<!-- light triangle -->
<path d="M101.2 102.6 L107.1 124.5 L114.5 146.6 L124 175 L129.9 195.8 L133.8 217 L141.5 217.6 L152 215.6 L160.3 211.3 L152.6 191 L146.9 175 L135.1 153.9 L121.8 131.8 L108.6 112.7 L102.6 103 Z" fill="#a7a7a7" stroke="#4a4a4a" stroke-width="0.6"/>
<!-- rim highlight on left -->
<path d="M88.9 107 L94.9 126.3 L103.2 155.1 L111.6 181.4 L120 205.4 L122 210.5 L124.7 214.6" fill="none" stroke="#cdcdcd" stroke-width="1.6"/>
<path d="M90.4 106.2 L96.4 125.8 L104.7 154.6 L113.1 180.9 L121.5 204.9 L123.4 209.6" fill="none" stroke="#111" stroke-width="1"/>
<!-- bottom rim band -->
<path d="M121 210.8 L124 215.5 L129 218 L134.7 219 L142 219 L149 217.7 L156 215.2 L162.2 211.8 L168.7 206 L171 203.5 L169.5 200.8 L166.5 204 L160.8 209 L155 212.2 L148.4 214.6 L141.8 215.8 L135 215.8 L130 214.8 L126.2 212.8 L123.8 209 Z" fill="#b9b9b9" stroke="#222" stroke-width="0.6"/>
<path d="M123.5 212.6 L126 215 L130 216.7 L135 217.5 L141.8 217.5 L148.6 216.3 L155.4 213.8 L161.4 210.4 L167.6 205" fill="none" stroke="#333" stroke-width="0.9"/>
<!-- rivet line -->
<path d="M133.5 118 L141.9 147.9 L151.4 179 L162 205" fill="none" stroke="#3a3a3a" stroke-width="0.8" stroke-dasharray="0.8 1.6"/>
<!-- top strip -->
<path d="M98.6 95.6 L122.3 88.4 L124 90 L100.5 97.6 Z" fill="#9a9a9a" stroke="#222" stroke-width="0.6"/>
<path d="M105 103 L122.5 92.5" stroke="#888" stroke-width="0.6" fill="none"/>
<!-- knob -->
<ellipse cx="133" cy="115" rx="4" ry="4.6" fill="#707070" stroke="#1e1e1e" stroke-width="0.8"/>
<ellipse cx="132.6" cy="115.4" rx="2" ry="2.3" fill="#555" stroke="#222" stroke-width="0.5"/>
<!-- small bolt left -->
<path d="M80.5 108.5 L84 107.3 L85.6 110 L83 112.5 L80.8 111.5 Z" fill="#555" stroke="#111" stroke-width="0.7"/>
<path d="M100.8 93.2 l3 -1.2 l1.2 2.4 l-3 1.4 z" fill="#8a8a8a" stroke="#1a1a1a" stroke-width="0.6"/>
</g>
<g id="deflector" stroke-linejoin="round">
<path d="M65.2 68.6 L85.6 59.3 L107.9 78.8 L108.9 91.8 L105.1 93.8 L100.5 85.6 L93 84.6 L89.4 89 L89.4 102 L85.6 103.9 L71.7 90.9 L65.4 78 Z" fill="#5d5d5d" stroke="#1e1e1e" stroke-width="0.9"/>
<path d="M65.2 68.6 L89.4 89 L89.4 102 L85.6 103.9 L71.7 90.9 L65.4 78 Z" fill="#6e6e6e" stroke="#2a2a2a" stroke-width="0.7"/>
<path d="M67 72.5 L86.5 90.3 L86.3 101.5" fill="none" stroke="#a8a8a8" stroke-width="0.7"/>
<path d="M107.9 78.8 L108.9 91.8 L105.1 93.8 L100.5 85.6 L102 82 Z" fill="#707070" stroke="#222" stroke-width="0.6"/>
<path d="M93 82.5 L100.8 80.2 L102.2 83.2 L94 86 Z" fill="#a2a2a2" stroke="#2a2a2a" stroke-width="0.5"/>
<ellipse cx="76.8" cy="87.3" rx="1" ry="1.5" fill="#444"/>
</g>
<g id="p30_32">
<path d="M110.7 73.4 L112.3 77.8 L126 73.5 L129.2 70.6 L127.2 65.2 L125.4 66 L126.6 69.8 L113.4 74.3 L112.3 71.6 Z" fill="#2e2e2e" stroke="#111" stroke-width="0.7"/>
<path d="M128.2 85.3 L154 73.2 L154.8 75 L129 87.2 Z" fill="#6e6e6e" stroke="#333" stroke-width="0.7"/>
<ellipse cx="158.8" cy="94.5" rx="4.3" ry="4.8" transform="rotate(-25 158.8 94.5)" fill="#5a5a5a" stroke="#1e1e1e" stroke-width="0.8"/>
<path d="M156 91.5 l2 5.5 M158.5 90.5 l2 6 M161 91 l1.2 4.5" stroke="#9a9a9a" stroke-width="0.7"/>
<ellipse cx="157.2" cy="95.3" rx="1.6" ry="2" fill="#888" stroke="#222" stroke-width="0.5"/>
</g>

<!-- 51_smallparts.svg -->
<g id="p26" stroke-linejoin="round">
<path d="M87 234 C89 231.5 94 230 100 229.2 L112 229 L125.5 229.2 L125.5 239 L112 238.6 L102 238.6 L101.5 241 L99 246.5 L90 243.5 L87 240 Z" fill="#6a6a6a" stroke="#1e1e1e" stroke-width="0.8"/>
<path d="M90.5 233.6 C94 231.6 100 231 106 231 L124 231.3 L124 234 L106 233.6 C100 233.6 96 234.2 92 236 Z" fill="#1c1c1c"/>
<path d="M88.5 233.3 C91 231 95 230.3 100 229.9 L112 229.7 L124.8 230" fill="none" stroke="#9c9c9c" stroke-width="0.8"/>
<path d="M108 234.6 L114 234.7 L114 238 L108 238 Z" fill="#a0a0a0" stroke="#222" stroke-width="0.4"/>
<path d="M101.5 236 l0 3 M99.5 240 l2 0.5 M92 238.5 l0 3.5 M95.5 239.5 l0 4" stroke="#1a1a1a" stroke-width="0.9"/>
<path d="M111.5 229 l0 -1.4 l2.6 0 l0 1.4 M120.6 229.2 l0 -1.6 l2.8 0 l0 1.6" fill="#6a6a6a" stroke="#222" stroke-width="0.7"/>
</g>
<g id="p24" stroke-linejoin="round">
<ellipse cx="153.2" cy="236.8" rx="23.3" ry="6.6" transform="rotate(5 153.2 236.8)" fill="#5a5a5a" stroke="#1e1e1e" stroke-width="0.8"/>
<ellipse cx="153" cy="233.6" rx="22.8" ry="6" transform="rotate(5 153 233.6)" fill="#777" stroke="#1e1e1e" stroke-width="0.8"/>
<ellipse cx="153" cy="233.4" rx="19.5" ry="4.6" transform="rotate(5 153 233.4)" fill="#a3a3a3" stroke="#444" stroke-width="0.5"/>
<path d="M134 238.2 l0 2.6 M140 240 l0 2.6 M147 241.3 l0 2.6 M155 242 l0 2.6 M163 241.8 l0 2.6 M170 240.4 l0 2.6" stroke="#222" stroke-width="0.8"/>
<circle cx="153" cy="231.3" r="0.9" fill="#555"/>
<g fill="#5a5a5a" stroke="#151515" stroke-width="0.7">
<ellipse cx="145" cy="224" rx="2.4" ry="1.8"/><ellipse cx="170" cy="228.2" rx="2.4" ry="1.8"/><ellipse cx="177" cy="239.3" rx="2" ry="1.8"/>
</g>
</g>
<g id="p23" stroke-linejoin="round">
<path d="M171.5 250.5 L173 246 L181 246.2 L182 249.5 C188 251 196 250.5 199.5 247.5 L196.5 243 L198 239.5 L204 239 L211 243.5 L212 248.5 L208.5 253.5 C200 257.5 184 257.5 174 254.5 Z" fill="#676767" stroke="#1e1e1e" stroke-width="0.8"/>
<path d="M176 250.5 l0 4 M180 251.5 l0 4 M184 252.3 l0 4 M188 252.8 l0 4 M192 252.8 l0 4 M196 252.4 l0 4 M200 251.5 l0 4 M204 250 l0 4 M207.5 248 l0 4" stroke="#1c1c1c" stroke-width="0.8"/>
<path d="M198.5 241 L204 240.5 L209.5 244.2 L210 247.5" fill="none" stroke="#a5a5a5" stroke-width="0.8"/>
<path d="M197.5 238.5 l2.4 -1.4 l1.4 1.8 M203 238.3 l2.2 -1 l1.2 1.8" fill="none" stroke="#222" stroke-width="0.9"/>
</g>
<g id="p25"><path d="M127 250 L130 249.6 L133 251.6 L145.2 253 L144.8 256 L131.5 254.6 L127.5 252.6 Z" fill="#757575" stroke="#2a2a2a" stroke-width="0.7"/></g>

<!-- 52_p27.svg -->
<g id="p27" fill="none" stroke-linecap="round" stroke-linejoin="round">
<g stroke="#2a2a2a" stroke-width="2.4">
<path d="M78.9 156.8 L77.1 177.4 L72.8 194.5 Q72.8 198.6 76 198.8 L80 199.1 Q82.6 199 83.4 193 L86.9 178.6 L88.6 159"/>
<path d="M65.5 183.7 L74.3 179.8 L95.8 184.9"/>
<path d="M67 184.6 L95.5 191.6"/>
</g>
<g stroke="#8c8c8c" stroke-width="1.1">
<path d="M78.9 156.8 L77.1 177.4 L72.8 194.5 Q72.8 198.6 76 198.8 L80 199.1 Q82.6 199 83.4 193 L86.9 178.6 L88.6 159"/>
<path d="M65.5 183.7 L74.3 179.8 L95.8 184.9"/>
<path d="M67 184.6 L95.5 191.6"/>
</g>
<path d="M98.5 191.5 L102.6 192 L102.8 195.2 L98.8 195 Z" fill="#4a4a4a" stroke="#161616" stroke-width="0.8"/>
<ellipse cx="52" cy="183.2" rx="1.7" ry="2" fill="#555" stroke="#1a1a1a" stroke-width="0.8"/>
<ellipse cx="57.8" cy="183.9" rx="1.5" ry="2.2" fill="#aaa" stroke="#1a1a1a" stroke-width="0.9"/>
</g>

<!-- 53_p19.svg -->
<g id="p19" fill="none" stroke-linecap="round" stroke-linejoin="round">
<path d="M174.6 194.2 L196 193.2 L209.7 192.2 L210 196 L196 198.6 L176 199.4 Z" fill="#5c5c5c" stroke="#1e1e1e" stroke-width="0.8"/>
<path d="M195.5 188.6 L208 188 L209.7 192.2 L196 193.4 Z" fill="#7c7c7c" stroke="#1e1e1e" stroke-width="0.6"/>
<path d="M176 196 L195 195.2" stroke="#9a9a9a" stroke-width="0.7"/>
<g stroke="#262626" stroke-width="3">
<path d="M235 128.3 L221 132.6 L207 140.5 Q203.4 143 202 149.5 L197.4 172.8 L193.3 193.5"/>
<path d="M235 129.2 L224.5 136 Q216.8 139.5 216.2 147 L214.9 158.8 L211.4 176.3 L208.1 193.2"/>
</g>
<g stroke="#727272" stroke-width="1.6">
<path d="M235 128.3 L221 132.6 L207 140.5 Q203.4 143 202 149.5 L197.4 172.8 L193.3 193.5"/>
<path d="M235 129.2 L224.5 136 Q216.8 139.5 216.2 147 L214.9 158.8 L211.4 176.3 L208.1 193.2"/>
</g>
<ellipse cx="213.2" cy="196.6" rx="1.5" ry="1.9" fill="#222" stroke="#111" stroke-width="0.6"/>
<ellipse cx="206" cy="183.5" rx="1.4" ry="1.7" fill="#222" stroke="#111" stroke-width="0.5"/>
</g>

<!-- 54_p20.svg -->
<g id="p20" stroke-linejoin="round">
<path d="M263.9 212.5 L274.4 209 L294.5 212.5 L298.9 217.8 L302.4 224.8 L303.3 256.3 L292.8 259 L288.4 255.4 L281.4 249.3 L279.7 233.5 L278.8 224.5 L277 240.5 L274.4 265 L267.4 271.2 L258.6 272.9 L252.5 270.3 L251.6 258.9 L247.3 254.5 L256 229.1 L263 226.5 Z" fill="#6b6b6b" stroke="#222" stroke-width="0.8"/>
<!-- top face -->
<path d="M263.9 212.5 L274.4 209 L294.5 212.5 L298.9 217.8 L279 223.5 L263.9 217 Z" fill="#5f5f5f" stroke="#2a2a2a" stroke-width="0.6"/>
<!-- right light face -->
<path d="M279.3 223.4 L297.5 227.4 L298.6 256.8 L292.8 258.8 L288.4 255.4 L281.4 249.3 L279.7 233.5 Z" fill="#8f8f8f" stroke="#333" stroke-width="0.6"/>
<path d="M298.9 217.8 L302.4 224.8 L303.3 256.3 L298.6 257 L297.5 227.4 L279.3 223.4 Z" fill="#7b7b7b" stroke="#2a2a2a" stroke-width="0.6"/>
<!-- left lower darker -->
<path d="M247.3 254.5 L272.6 258.5 L274.4 265 L267.4 271.2 L258.6 272.9 L252.5 270.3 L251.6 258.9 Z" fill="#5d5d5d" stroke="#2a2a2a" stroke-width="0.6"/>
<path d="M256 229.1 L263 226.5 L263.9 217" fill="none" stroke="#3a3a3a" stroke-width="0.6"/>
<path d="M262.5 228 L276.5 240" fill="none" stroke="#4a4a4a" stroke-width="0.5"/>
<!-- knob -->
<path d="M273.2 207.5 L277.8 207.3 L278 211 L273.4 211.2 Z" fill="#9a9a9a" stroke="#222" stroke-width="0.6"/>
<path d="M255 268.5 l0 3.4 M258.3 269.3 l0 3.6" stroke="#222" stroke-width="0.7"/>
<circle cx="289.5" cy="255.8" r="0.8" fill="#333"/>
<!-- nuts -->
<ellipse cx="308.5" cy="249.4" rx="3" ry="3.3" fill="#3c3c3c" stroke="#161616" stroke-width="0.8"/>
<ellipse cx="308.8" cy="249.2" rx="1.3" ry="1.5" fill="#777"/>
<ellipse cx="244.2" cy="274.6" rx="3" ry="3.2" fill="#3c3c3c" stroke="#161616" stroke-width="0.8"/>
<ellipse cx="244.5" cy="274.4" rx="1.3" ry="1.4" fill="#777"/>
</g>

<!-- 60_handles.svg -->
<g id="cables" fill="none" stroke-linecap="round" stroke-linejoin="round">
<!-- rod 6 -->
<path d="M431.2 250.5 L366.5 410.9" stroke="#2a2a2a" stroke-width="3.6"/>
<path d="M431.2 250.5 L366.5 410.9" stroke="#808080" stroke-width="2"/>
<path d="M431.8 248.6 L429.8 254" stroke="#2a2a2a" stroke-width="4"/>
<path d="M431.6 249.3 L430.2 253" stroke="#6a6a6a" stroke-width="2.2"/>
<!-- cable 10 -->
<path d="M514.3 168.7 L508.7 206 C506 222 498 238 490 250 C485 258 481 268 480 279.8 C468 288 455 296 439.5 304.7 C424 314 408 327 393 339.5 C385 346 377 356 368.5 368.5" stroke="#3a3a3a" stroke-width="2.6"/>
<path d="M514.3 168.7 L508.7 206 C506 222 498 238 490 250 C485 258 481 268 480 279.8 C468 288 455 296 439.5 304.7 C424 314 408 327 393 339.5 C385 346 377 356 368.5 368.5" stroke="#a9a9a9" stroke-width="1"/>
<!-- cable a (throttle) -->
<path d="M336 282.5 L340 277 C352 273 362 270.5 373 268 C390 263.5 407 260 423 258 C445 255 466 250 484 240.5 C492 237 498 234.5 502 232.8 C515 226 527 215 535 206 C544 196 550 186 553 177.6 L557.3 166.5" stroke="#3a3a3a" stroke-width="2.6"/>
<path d="M336 282.5 L340 277 C352 273 362 270.5 373 268 C390 263.5 407 260 423 258 C445 255 466 250 484 240.5 C492 237 498 234.5 502 232.8 C515 226 527 215 535 206 C544 196 550 186 553 177.6 L557.3 166.5" stroke="#a9a9a9" stroke-width="1"/>
</g>
<g id="handles" stroke-linejoin="round">
<!-- handle 9 -->
<path d="M509.8 153.8 L506.5 162.1 L489.7 220 L463.2 320.6 L464 323.5 L467.5 325 L471 323.9 L499.2 220 L515.4 164.3 L518 159.3 L562.9 162.1 L565.3 160.8 L566 157.5 L564.5 155.3 L517 148.9 C513 149 511 151 509.8 153.8 Z" fill="#696969" stroke="#2a2a2a" stroke-width="0.9"/>
<path d="M513 153.5 L493 221 L466.5 321" fill="none" stroke="#555" stroke-width="0.6"/>
<ellipse cx="564.6" cy="158.6" rx="1.8" ry="3.3" transform="rotate(8 564.6 158.6)" fill="#9a9a9a" stroke="#2a2a2a" stroke-width="0.6"/>
<ellipse cx="467.2" cy="322.3" rx="1" ry="0.8" fill="#222"/>
<!-- handle 11 -->
<path d="M590.3 115.3 C586 117 583.5 120.3 581 124 L575.3 133 L565.5 160 L536 220 L519 260 L500.8 302.9 L501.5 305.8 L504.5 307.6 L507.4 307.3 L531.5 260 L547.5 220 L577 162 L586.5 133.5 L591 126.8 L600.4 122.2 L643.9 126.5 L645.8 124.5 L646 120.5 L644.9 118.9 L596.3 114.6 C594 114.4 592 114.6 590.3 115.3 Z" fill="#686868" stroke="#2a2a2a" stroke-width="0.9"/>
<path d="M594 117 L583 128 L572 161 L541 222 L505 304" fill="none" stroke="#505050" stroke-width="0.6"/>
<ellipse cx="644.7" cy="122.6" rx="1.7" ry="3.8" transform="rotate(5 644.7 122.6)" fill="#a5a5a5" stroke="#2a2a2a" stroke-width="0.6"/>
<ellipse cx="504.3" cy="305" rx="1" ry="0.8" fill="#222"/>
<circle cx="513.5" cy="290.5" r="0.7" fill="#2a2a2a"/>
<circle cx="468.5" cy="311" r="0.7" fill="#2a2a2a"/>
</g>
<g id="grips" stroke-linejoin="round">
<!-- grip right -->
<path d="M654.5 119 C654.5 118 655.5 117.6 657 117.7 L685.5 119.3 L686 131.3 L656.5 128.3 C655 128.2 654.3 127.6 654.3 126.5 Z" fill="#666666" stroke="#222" stroke-width="0.8"/>
<ellipse cx="689.3" cy="125.4" rx="4.2" ry="6.3" transform="rotate(5 689.3 125.4)" fill="#6a6a6a" stroke="#222" stroke-width="0.8"/>
<ellipse cx="690" cy="125.5" rx="2.4" ry="4" transform="rotate(5 690 125.5)" fill="#6e6e6e" stroke="#3a3a3a" stroke-width="0.5"/>
<path d="M657 119.6 L685 121.3" stroke="#9c9c9c" stroke-width="0.9" stroke-dasharray="3.5 2"/>
<path d="M657 123.5 L685 125.5 M657 126.3 L685 128.8" stroke="#3a3a3a" stroke-width="0.9" stroke-dasharray="1.5 1.5"/>
<!-- grip lower -->
<path d="M595.5 138.3 C595.5 137.2 596.5 136.8 598 136.9 L625.5 138.9 L626 150.4 L597.5 146.8 C596 146.6 595.3 146 595.3 144.9 Z" fill="#666666" stroke="#222" stroke-width="0.8"/>
<ellipse cx="629.5" cy="144.9" rx="4.2" ry="6.3" transform="rotate(5 629.5 144.9)" fill="#6a6a6a" stroke="#222" stroke-width="0.8"/>
<ellipse cx="630.2" cy="145" rx="2.4" ry="4" transform="rotate(5 630.2 145)" fill="#6e6e6e" stroke="#3a3a3a" stroke-width="0.5"/>
<path d="M598 138.9 L625 140.9" stroke="#9c9c9c" stroke-width="0.9" stroke-dasharray="3.5 2"/>
<path d="M598 142.5 L625 144.8 M598 145 L625 148" stroke="#3a3a3a" stroke-width="0.9" stroke-dasharray="1.5 1.5"/>
</g>
<g id="p14" stroke-linejoin="round">
<path d="M633.8 63 C635 61.6 637.6 61.8 638.6 63.4 C639.4 64.6 639.2 65.6 638.6 66.5 L610.5 99.8 L604.5 102.4 L602.5 101.5 L594.3 93.5 L593.7 89.6 L597.3 88.3 L603.4 90.5 Z" fill="#5c5c5c" stroke="#222" stroke-width="0.9"/>
<path d="M638.3 67.3 L610.3 100 L605 102.2 L606.5 99.5 L636.5 65.5 Z" fill="#b4b4b4" stroke="#333" stroke-width="0.5"/>
<circle cx="596" cy="90.6" r="0.9" fill="#c0c0c0"/><circle cx="605.5" cy="93.5" r="0.9" fill="#c0c0c0"/><circle cx="603.5" cy="98.6" r="0.9" fill="#c0c0c0"/>
<!-- rod 15 -->
<path d="M594.6 95.2 L592.3 96.2 L592.6 98.6 L589.2 100 L574 131.5 L566 160" fill="none" stroke="#1e1e1e" stroke-width="1.2"/>
<!-- small bolt arrow -->
<path d="M620 109.8 L626 107" stroke="#222" stroke-width="2.4" stroke-linecap="round"/>
<path d="M625.3 104.8 L629.2 105.2 L627.8 109 Z" fill="#333" stroke="#1a1a1a" stroke-width="0.7"/>
</g>

<!-- 61_p17.svg -->
<g id="p17" stroke-linejoin="round">
<path fill-rule="evenodd" d="M426.4 148.2 L428.5 147 L499.5 116 C503 114.5 507 117 506.5 120.5 L496.3 144 L490.5 141 L486 146 L480 158.7 L476 155 L465.9 153.9 L441.6 165 C434 169 426 177 421.3 186 L420.3 189.5 C419.5 192 415.5 191.5 415.3 188.8 L424.8 151 Z
M440.6 151.8 L471 137.5 L468 145.8 L438.5 159.9 Z
M484 130.6 L494.2 124.5 L490.2 138.5 Z" fill="#6b6b6b" stroke="#222" stroke-width="0.9"/>
<!-- left flange shading -->
<path d="M426.4 148.6 L431 150 L421 189 L416 189.5 Z" fill="#5a5a5a" stroke="#2a2a2a" stroke-width="0.5"/>
<path d="M431 150 L438.5 151 L430.5 165.5 L424 180 Z" fill="#787878" stroke="#333" stroke-width="0.4"/>
<path d="M438.5 161.5 L466 148.5" stroke="#9a9a9a" stroke-width="0.8" fill="none"/>
<path d="M430 148.5 L498.5 118.3" stroke="#8a8a8a" stroke-width="0.7" fill="none"/>
<circle cx="427" cy="153.5" r="0.8" fill="#222"/><circle cx="418.5" cy="186" r="0.8" fill="#222"/><circle cx="502.5" cy="120" r="0.8" fill="#c0c0c0"/>
<!-- box -->
<path d="M473 139.5 L482 143.5 L483 158.8 L475 150.8 Z" fill="#777" stroke="#222" stroke-width="0.6"/>
<path d="M482 143.5 L496.3 148.6 L495.4 156.8 L491 159.5 L484 159.7 L483 158.8 Z" fill="#8e8e8e" stroke="#222" stroke-width="0.6"/>
<path d="M473 139.5 L478.5 136 L486 139.5 L482 143.5 Z" fill="#6a6a6a" stroke="#222" stroke-width="0.5"/>
<path d="M479.5 132 L482 131 L500.5 145 L499 148 L496.3 148.6 Z" fill="#2c2c2c" stroke="#141414" stroke-width="0.6"/>
<circle cx="490" cy="151.5" r="0.8" fill="#333"/>
</g>
<g id="bolts17">
<ellipse cx="401.2" cy="136" rx="2.5" ry="2.8" fill="#333" stroke="#161616" stroke-width="0.7"/>
<ellipse cx="401.5" cy="135.8" rx="1" ry="1.2" fill="#777"/>
<g stroke-linecap="round">
<path d="M406.5 168.8 L415.3 164" stroke="#222" stroke-width="3.4"/><path d="M406.5 168.8 L415.3 164" stroke="#6a6a6a" stroke-width="1.8"/>
<ellipse cx="404.6" cy="169.7" rx="2.4" ry="3" transform="rotate(-28 404.6 169.7)" fill="#8c8c8c" stroke="#1e1e1e" stroke-width="0.8"/>
<path d="M400.5 198 L409.2 192.3" stroke="#222" stroke-width="3.4"/><path d="M400.5 198 L409.2 192.3" stroke="#6a6a6a" stroke-width="1.8"/>
<ellipse cx="398.8" cy="199" rx="2.4" ry="3" transform="rotate(-28 398.8 199)" fill="#8c8c8c" stroke="#1e1e1e" stroke-width="0.8"/>
<path d="M504 148.2 L512 143" stroke="#222" stroke-width="3.4"/><path d="M504 148.2 L512 143" stroke="#6a6a6a" stroke-width="1.8"/>
<ellipse cx="513.6" cy="142" rx="2.4" ry="3" transform="rotate(-28 513.6 142)" fill="#555" stroke="#1e1e1e" stroke-width="0.8"/>
<path d="M514.5 114.8 L522.5 109.8" stroke="#222" stroke-width="3.4"/><path d="M514.5 114.8 L522.5 109.8" stroke="#6a6a6a" stroke-width="1.8"/>
<ellipse cx="524" cy="108.8" rx="2.4" ry="3" transform="rotate(-28 524 108.8)" fill="#555" stroke="#1e1e1e" stroke-width="0.8"/>
</g>
</g>

<!-- 62_p16_18.svg -->
<g id="p18" stroke-linejoin="round" stroke-linecap="round">
<path d="M352.7 124 L382.4 144.6" stroke="#1e1e1e" stroke-width="5"/>
<path d="M352.7 124 L382.4 144.6" stroke="#5c5c5c" stroke-width="3.4"/>
<path d="M367.5 137 L373 138 L383.2 144.4 L382.5 149 L380.4 150.6 L376 147.6 L367.5 140.3 Z" fill="#565656" stroke="#1a1a1a" stroke-width="0.8"/>
<circle cx="370.5" cy="139.8" r="0.8" fill="#1a1a1a"/><circle cx="378.8" cy="146.6" r="0.8" fill="#aaa"/>
<path d="M332.7 118.9 C332.5 116 333.5 114 334.7 113 C336 110.5 338 108.8 340.5 107.9 C342.5 107.2 344.5 107.4 346.3 108.5 L355.3 120.8 L350.8 127.2 C348 127.4 346 127 344.3 126.6 L336 124 C334 122.8 333 121 332.7 118.9 Z" fill="#686868" stroke="#222" stroke-width="0.9"/>
<path d="M333.6 119.5 C333.5 116 335 113.5 336.5 112 C338 110 340 108.8 342 108.5" fill="none" stroke="#a8a8a8" stroke-width="1.3"/>
<path d="M351 147.9 L358.3 146" stroke="#222" stroke-width="2.8"/><path d="M351 147.9 L354 147.1" stroke="#8a8a8a" stroke-width="1.4"/>
<path d="M364.5 152.8 L372.5 150.4" stroke="#222" stroke-width="3.8"/><path d="M364.5 152.8 L367.5 151.9" stroke="#8a8a8a" stroke-width="2.2"/>
<path d="M382.6 132.3 L383 129.8 L392 130.2 L392 131.8 L385.5 131.6 L384.2 132.6 Z" fill="#cfcfcf" stroke="#333" stroke-width="0.7"/>
<ellipse cx="390.1" cy="141.3" rx="3.7" ry="3.2" transform="rotate(-25 390.1 141.3)" fill="#111"/>
<ellipse cx="401.6" cy="135.8" rx="2.9" ry="3.1" fill="#444" stroke="#1a1a1a" stroke-width="0.7"/>
<ellipse cx="401.9" cy="135.6" rx="1.2" ry="1.4" fill="#6a6a6a"/>
</g>
<g id="p16" stroke-linejoin="round">
<path d="M550.5 110.2 C551.5 109.3 553 109.6 553.6 110.6 C554.2 111.6 554 112.6 553.2 113.5 L535.8 133.6 L530.8 138.7 L524.7 143.8 L521.5 142 L520.4 139.5 L520.4 128.6 L523.7 126.1 L526 127.5 Z" fill="#5a5a5a" stroke="#222" stroke-width="0.9"/>
<path d="M552.6 114.4 L535.5 134.4 L529.8 139.6" fill="none" stroke="#9c9c9c" stroke-width="0.9"/>
<circle cx="523.6" cy="127" r="2.6" fill="#5a5a5a" stroke="#222" stroke-width="0.8"/><circle cx="523.8" cy="141.6" r="3" fill="#5a5a5a" stroke="#222" stroke-width="0.8"/><circle cx="531.8" cy="136.8" r="2.6" fill="#5a5a5a" stroke="#222" stroke-width="0.8"/>
<path d="M521.5 128 L521.5 140 L530 137 L526 128 Z" fill="#5a5a5a"/>
<circle cx="522.4" cy="128.8" r="0.9" fill="#c8c8c8"/><circle cx="523" cy="141" r="0.9" fill="#c8c8c8"/><circle cx="530.6" cy="136.4" r="0.9" fill="#c8c8c8"/>
<path d="M518.5 127.8 l2.4 -1.6 l1.4 1.8" fill="none" stroke="#222" stroke-width="1"/>
<!-- knob + block -->
<ellipse cx="540" cy="147.8" rx="3.2" ry="3" fill="#4a4a4a" stroke="#1a1a1a" stroke-width="0.8"/>
<ellipse cx="539.6" cy="147.4" rx="1.4" ry="1.3" fill="#8a8a8a"/>
<path d="M547.8 143.5 L550 143 L550.8 146 L548.6 146.6 Z" fill="#2a2a2a"/>
<!-- misc small marks -->
<path d="M565.5 130.8 l1.6 -0.4 l0.8 3.6 l-1.6 0.4 z" fill="#2a2a2a"/>
<path d="M525 164.3 l1.6 -0.4 l0.8 3.4 l-1.6 0.4 z" fill="#2a2a2a"/>
<path d="M515.5 185.5 L520 188.5 L517.8 192 L516 192 Z" fill="none" stroke="#222" stroke-width="0.9"/>
<circle cx="522.5" cy="189.6" r="0.9" fill="#222"/><circle cx="525.2" cy="189.2" r="0.8" fill="#222"/>
<!-- bolts at handle 11 junction -->
<ellipse cx="573.4" cy="130.6" rx="2.3" ry="2.6" fill="#8a8a8a" stroke="#1e1e1e" stroke-width="0.9"/>
<ellipse cx="580.3" cy="130.2" rx="1.5" ry="1.8" fill="#555" stroke="#1e1e1e" stroke-width="0.7"/>
<path d="M585.5 128.5 l2.6 -1.6" stroke="#111" stroke-width="2"/>
<!-- clamp at handle 9/11 junction -->
<path d="M553.5 163 L559.5 161.5 L561.5 166 L556 168.5 Z" fill="#e4e4e4" stroke="#1a1a1a" stroke-width="0.9"/>
<path d="M552.5 165.5 l2.6 3 M559 166.5 l3 -1.2" stroke="#111" stroke-width="1.4"/>
<!-- part 13 cluster -->
<path d="M591 124.5 L595.2 122.6 L597.2 126.2 L593 128.4 Z" fill="#dcdcdc" stroke="#1a1a1a" stroke-width="0.9"/>
<ellipse cx="599.6" cy="122.8" rx="1.5" ry="1.8" fill="#aaa" stroke="#1a1a1a" stroke-width="0.8"/>
<circle cx="603" cy="120.8" r="0.9" fill="#ccc" stroke="#222" stroke-width="0.5"/>
<!-- handle 9 left top clamp -->
<path d="M513 156.8 l4.4 -2.4" stroke="#111" stroke-width="1.8"/>
<path d="M529.5 153.5 l4.4 -1.2" stroke="#cfcfcf" stroke-width="1.2"/>
<path d="M514.5 166 L517.5 165.6 L517.8 171 L515 171.4 Z" fill="#7a7a7a" stroke="#1e1e1e" stroke-width="0.6"/>
</g>

<!-- 63_hardware.py -->
<g id="hardware"><path d="M470.5 331 L483.3 325" stroke="#1e1e1e" stroke-width="3.4" stroke-linecap="round"/>
<path d="M470.5 331 L483.3 325" stroke="#7a7a7a" stroke-width="1.7999999999999998" stroke-dasharray="0.8 0.8"/>
<ellipse cx="483.3" cy="325" rx="2.6" ry="3.5" transform="rotate(-25 483.3 325)" fill="#4a4a4a" stroke="#1a1a1a" stroke-width="0.9"/>
<path d="M467.2 342.7 L480.8 337.4" stroke="#1e1e1e" stroke-width="3.4" stroke-linecap="round"/>
<path d="M467.2 342.7 L480.8 337.4" stroke="#7a7a7a" stroke-width="1.7999999999999998" stroke-dasharray="0.8 0.8"/>
<ellipse cx="480.8" cy="337.4" rx="2.6" ry="3.5" transform="rotate(-21 480.8 337.4)" fill="#4a4a4a" stroke="#1a1a1a" stroke-width="0.9"/>
<path d="M494 323.6 L507.5 318.4" stroke="#1e1e1e" stroke-width="3.4" stroke-linecap="round"/>
<path d="M494 323.6 L507.5 318.4" stroke="#7a7a7a" stroke-width="1.7999999999999998" stroke-dasharray="0.8 0.8"/>
<ellipse cx="494" cy="323.6" rx="2.6" ry="3.5" transform="rotate(-21 494 323.6)" fill="#8c8c8c" stroke="#1a1a1a" stroke-width="0.9"/>
<path d="M490 335.2 L504 330" stroke="#1e1e1e" stroke-width="3.4" stroke-linecap="round"/>
<path d="M490 335.2 L504 330" stroke="#7a7a7a" stroke-width="1.7999999999999998" stroke-dasharray="0.8 0.8"/>
<ellipse cx="490" cy="335.2" rx="2.6" ry="3.5" transform="rotate(-20 490 335.2)" fill="#8c8c8c" stroke="#1a1a1a" stroke-width="0.9"/>
<ellipse cx="454.9" cy="314.9" rx="1.7" ry="2.6" transform="rotate(-15 454.9 314.9)" fill="#5a5a5a" stroke="#111" stroke-width="1"/>
<ellipse cx="454.9" cy="325.6" rx="1.7" ry="2.6" transform="rotate(-15 454.9 325.6)" fill="#5a5a5a" stroke="#111" stroke-width="1"/>
<path d="M460.7 310.20000000000005 L462.7 315.20000000000005 L460.3 316.20000000000005 L458.7 314.6 Z" fill="#e8e8e8" stroke="#222" stroke-width="0.8"/>
<path d="M460.7 321.6 L462.7 326.6 L460.3 327.6 L458.7 326 Z" fill="#e8e8e8" stroke="#222" stroke-width="0.8"/>
<circle cx="522.9" cy="284.3" r="2.1" fill="none" stroke="#1a1a1a" stroke-width="1.1"/>
<path d="M521.4 282.1 l-1.4 -2.2" stroke="#1a1a1a" stroke-width="0.9"/>
<circle cx="518.5" cy="297.3" r="2.1" fill="none" stroke="#1a1a1a" stroke-width="1.1"/>
<path d="M517.0 295.1 l-1.4 -2.2" stroke="#1a1a1a" stroke-width="0.9"/>
<ellipse cx="527.5" cy="281" rx="1.6" ry="2.4" transform="rotate(-15 527.5 281)" fill="#4a4a4a" stroke="#111" stroke-width="1"/>
<ellipse cx="525.2" cy="294" rx="1.6" ry="2.4" transform="rotate(-15 525.2 294)" fill="#4a4a4a" stroke="#111" stroke-width="1"/>
<path d="M477.2 361 C480 361.5 483.5 365.5 484.9 369.6 L479.8 372.2 C478 369 477 365 477.2 361 Z" fill="#b8b8b8" stroke="#1a1a1a" stroke-width="1.1"/>
<path d="M478.6 364 L482.3 369.2" stroke="#333" stroke-width="0.7"/>
<path d="M359.8 410 L358.6 405 C358.6 403.2 361 403.2 361 405 L360.6 407" fill="none" stroke="#222" stroke-width="0.8"/>
<path d="M360 416.6 L363.6 415.8 L364.2 419 L360.6 419.8 Z" fill="#3a3a3a" stroke="#111" stroke-width="0.7"/>
<ellipse cx="360.2" cy="424.6" rx="1.6" ry="1.4" fill="#333" stroke="#111" stroke-width="0.6"/></g>
<!-- 90_labels.py -->
<g class="l">
<path d="M73 488.5 L66.8 429.5"/>
<path d="M120.7 458.6 L148.3 419.9"/>
<path d="M144.5 494.5 L160 476.5"/>
<path d="M254.8 473.5 L227.7 409"/>
<path d="M296.8 468.5 L296.8 437.4"/>
<path d="M376 446.4 L367 412.9"/>
<path d="M437.5 457.5 L433.3 432"/>
<path d="M501.9 398.2 L482.8 370.7"/>
<path d="M545.5 318 L475.5 307"/>
<path d="M444.7 279.6 L436.2 307.2"/>
<path d="M556.9 267 L533.6 256.4"/>
<path d="M616.2 189.7 L608 148.6"/>
<path d="M651.7 143.7 L601.4 124"/>
<path d="M604 66 L612 76"/>
<path d="M568 75 L584 107"/>
<path d="M531 86 L537 118"/>
<path d="M463 100 L483 135"/>
<path d="M377 100 L362 128"/>
<path d="M255 158 L218 157"/>
<path d="M300 184 L295 212"/>
<path d="M233.3 295.5 L234.5 308.7"/>
<path d="M180 286 L147.6 269"/>
<path d="M226 226 L202 245"/>
<path d="M188 217 L174 232"/>
<path d="M85 262.3 L127.4 251.7"/>
<path d="M55 237 L90 235"/>
<path d="M27.3 170.7 L71.7 183"/>
<path d="M45.7 138.7 L91.7 127"/>
<path d="M40.7 85.3 L65.7 80.3"/>
<path d="M182.7 60.7 L128.3 70.3"/>
<path d="M185 77.3 L154 75.3"/>
<path d="M186 99.7 L163.3 94"/>
</g><g class="n">
<text x="65.8" y="497.5" textLength="8.2" lengthAdjust="spacingAndGlyphs">1</text>
<text x="113.0" y="468.8" textLength="8.2" lengthAdjust="spacingAndGlyphs">2</text>
<text x="136.5" y="505" textLength="8.2" lengthAdjust="spacingAndGlyphs">3</text>
<text x="249.9" y="487" textLength="8.2" lengthAdjust="spacingAndGlyphs">4</text>
<text x="290.9" y="483.5" textLength="8.2" lengthAdjust="spacingAndGlyphs">5</text>
<text x="372.9" y="461" textLength="8.2" lengthAdjust="spacingAndGlyphs">6</text>
<text x="433.4" y="468.3" textLength="8.2" lengthAdjust="spacingAndGlyphs">7</text>
<text x="499.1" y="410.3" textLength="8.2" lengthAdjust="spacingAndGlyphs">8</text>
<text x="546.4" y="323" textLength="8.2" lengthAdjust="spacingAndGlyphs">9</text>
<text x="438.4" y="276.6" textLength="16.3" lengthAdjust="spacingAndGlyphs">10</text>
<text x="557.4" y="272.2" textLength="16.3" lengthAdjust="spacingAndGlyphs">11</text>
<text x="607.4" y="202.6" textLength="16.3" lengthAdjust="spacingAndGlyphs">12</text>
<text x="650.9" y="147.2" textLength="16.3" lengthAdjust="spacingAndGlyphs">13</text>
<text x="593.4" y="64.8" textLength="16.3" lengthAdjust="spacingAndGlyphs">14</text>
<text x="559.7" y="73.7" textLength="16.3" lengthAdjust="spacingAndGlyphs">15</text>
<text x="523.4" y="85.3" textLength="16.3" lengthAdjust="spacingAndGlyphs">16</text>
<text x="455.4" y="97.5" textLength="16.3" lengthAdjust="spacingAndGlyphs">17</text>
<text x="369.9" y="97.5" textLength="16.3" lengthAdjust="spacingAndGlyphs">18</text>
<text x="255.6" y="164.5" textLength="16.3" lengthAdjust="spacingAndGlyphs">19</text>
<text x="293.4" y="182" textLength="16.3" lengthAdjust="spacingAndGlyphs">20</text>
<text x="224.4" y="293.2" textLength="16.3" lengthAdjust="spacingAndGlyphs">21</text>
<text x="180.1" y="294.8" textLength="16.3" lengthAdjust="spacingAndGlyphs">22</text>
<text x="220.6" y="227.8" textLength="16.3" lengthAdjust="spacingAndGlyphs">23</text>
<text x="182.4" y="216.8" textLength="16.3" lengthAdjust="spacingAndGlyphs">24</text>
<text x="68.6" y="268.2" textLength="16.3" lengthAdjust="spacingAndGlyphs">25</text>
<text x="37.9" y="243" textLength="16.3" lengthAdjust="spacingAndGlyphs">26</text>
<text x="11.7" y="175.8" textLength="16.3" lengthAdjust="spacingAndGlyphs">27</text>
<text x="30.1" y="144" textLength="16.3" lengthAdjust="spacingAndGlyphs">28</text>
<text x="24.4" y="92.4" textLength="16.3" lengthAdjust="spacingAndGlyphs">29</text>
<text x="182.4" y="62" textLength="16.3" lengthAdjust="spacingAndGlyphs">30</text>
<text x="185.1" y="83.2" textLength="16.3" lengthAdjust="spacingAndGlyphs">31</text>
<text x="186.4" y="106.9" textLength="16.3" lengthAdjust="spacingAndGlyphs">32</text>
</g>
</svg>
</body></html>
